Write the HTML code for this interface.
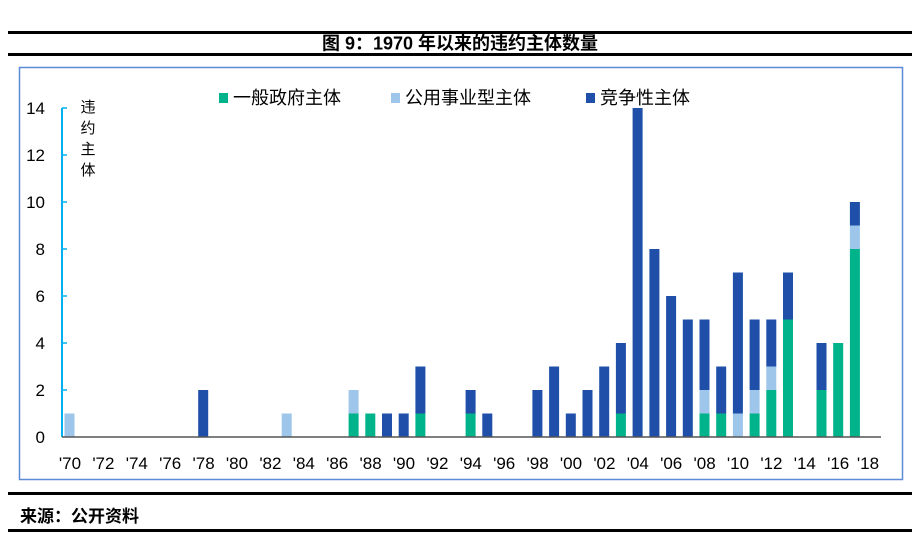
<!DOCTYPE html>
<html><head><meta charset="utf-8"><style>
body{margin:0;background:#fff;width:920px;height:540px;overflow:hidden}
svg{display:block}
text{font-family:"Liberation Sans","Noto Sans CJK SC",sans-serif}
</style></head><body>
<svg width="920" height="540" xmlns="http://www.w3.org/2000/svg">
<rect x="8" y="31" width="904" height="3" fill="#000"/>
<rect x="8" y="53" width="904" height="3" fill="#000"/>
<text x="460" y="49.5" font-size="18" font-weight="bold" text-anchor="middle">图 9：1970 年以来的违约主体数量</text>
<rect x="19.5" y="67.5" width="883" height="412" fill="none" stroke="#5b8ad6" stroke-width="1.5"/>
<rect x="8" y="492" width="904" height="3" fill="#000"/>
<rect x="8" y="529" width="904" height="3" fill="#000"/>
<text x="20" y="522" font-size="17" font-weight="bold">来源：公开资料</text>
<rect x="219" y="93" width="9" height="10" fill="#00b38a"/>
<text x="233" y="104" font-size="18">一般政府主体</text>
<rect x="391" y="93" width="9" height="10" fill="#9dc6ea"/>
<text x="405" y="104" font-size="18">公用事业型主体</text>
<rect x="586" y="93" width="9" height="10" fill="#1f4fa8"/>
<text x="600" y="104" font-size="18">竞争性主体</text>
<g font-size="15" text-anchor="middle">
<text x="88" y="112">违</text><text x="88" y="133">约</text><text x="88" y="154">主</text><text x="88" y="175">体</text></g>
<line x1="62" y1="108" x2="62" y2="437" stroke="#00b0f0" stroke-width="2"/>
<g stroke="#00b0f0" stroke-width="1.5">
<line x1="62" y1="108" x2="67" y2="108"/><line x1="62" y1="155" x2="67" y2="155"/><line x1="62" y1="202" x2="67" y2="202"/><line x1="62" y1="249" x2="67" y2="249"/><line x1="62" y1="296" x2="67" y2="296"/><line x1="62" y1="343" x2="67" y2="343"/><line x1="62" y1="390" x2="67" y2="390"/></g>
<g font-size="17" text-anchor="end">
<text x="45" y="443">0</text><text x="45" y="396">2</text><text x="45" y="349">4</text><text x="45" y="302">6</text><text x="45" y="255">8</text><text x="45" y="208">10</text><text x="45" y="161">12</text><text x="45" y="114">14</text></g>
<g>
<rect x="64.5" y="413.5" width="10" height="23.5" fill="#9dc6ea"/>
<rect x="198.2" y="390" width="10" height="47" fill="#1f4fa8"/>
<rect x="281.7" y="413.5" width="10" height="23.5" fill="#9dc6ea"/>
<rect x="348.6" y="413.5" width="10" height="23.5" fill="#00b38a"/><rect x="348.6" y="390" width="10" height="23.5" fill="#9dc6ea"/>
<rect x="365.3" y="413.5" width="10" height="23.5" fill="#00b38a"/>
<rect x="382" y="413.5" width="10" height="23.5" fill="#1f4fa8"/>
<rect x="398.7" y="413.5" width="10" height="23.5" fill="#1f4fa8"/>
<rect x="415.4" y="413.5" width="10" height="23.5" fill="#00b38a"/><rect x="415.4" y="366.5" width="10" height="47" fill="#1f4fa8"/>
<rect x="465.6" y="413.5" width="10" height="23.5" fill="#00b38a"/><rect x="465.6" y="390" width="10" height="23.5" fill="#1f4fa8"/>
<rect x="482.3" y="413.5" width="10" height="23.5" fill="#1f4fa8"/>
<rect x="532.4" y="390" width="10" height="47" fill="#1f4fa8"/>
<rect x="549.1" y="366.5" width="10" height="70.5" fill="#1f4fa8"/>
<rect x="565.8" y="413.5" width="10" height="23.5" fill="#1f4fa8"/>
<rect x="582.5" y="390" width="10" height="47" fill="#1f4fa8"/>
<rect x="599.2" y="366.5" width="10" height="70.5" fill="#1f4fa8"/>
<rect x="615.9" y="413.5" width="10" height="23.5" fill="#00b38a"/><rect x="615.9" y="343" width="10" height="70.5" fill="#1f4fa8"/>
<rect x="632.6" y="108" width="10" height="329" fill="#1f4fa8"/>
<rect x="649.4" y="249" width="10" height="188" fill="#1f4fa8"/>
<rect x="666.1" y="296" width="10" height="141" fill="#1f4fa8"/>
<rect x="682.8" y="319.5" width="10" height="117.5" fill="#1f4fa8"/>
<rect x="699.5" y="413.5" width="10" height="23.5" fill="#00b38a"/><rect x="699.5" y="390" width="10" height="23.5" fill="#9dc6ea"/><rect x="699.5" y="319.5" width="10" height="70.5" fill="#1f4fa8"/>
<rect x="716.2" y="413.5" width="10" height="23.5" fill="#00b38a"/><rect x="716.2" y="366.5" width="10" height="47" fill="#1f4fa8"/>
<rect x="732.9" y="413.5" width="10" height="23.5" fill="#9dc6ea"/><rect x="732.9" y="272.5" width="10" height="141" fill="#1f4fa8"/>
<rect x="749.6" y="413.5" width="10" height="23.5" fill="#00b38a"/><rect x="749.6" y="390" width="10" height="23.5" fill="#9dc6ea"/><rect x="749.6" y="319.5" width="10" height="70.5" fill="#1f4fa8"/>
<rect x="766.3" y="390" width="10" height="47" fill="#00b38a"/><rect x="766.3" y="366.5" width="10" height="23.5" fill="#9dc6ea"/><rect x="766.3" y="319.5" width="10" height="47" fill="#1f4fa8"/>
<rect x="783" y="319.5" width="10" height="117.5" fill="#00b38a"/><rect x="783" y="272.5" width="10" height="47" fill="#1f4fa8"/>
<rect x="816.5" y="390" width="10" height="47" fill="#00b38a"/><rect x="816.5" y="343" width="10" height="47" fill="#1f4fa8"/>
<rect x="833.2" y="343" width="10" height="94" fill="#00b38a"/>
<rect x="849.9" y="249" width="10" height="188" fill="#00b38a"/><rect x="849.9" y="225.5" width="10" height="23.5" fill="#9dc6ea"/><rect x="849.9" y="202" width="10" height="23.5" fill="#1f4fa8"/>
</g>
<line x1="62" y1="437" x2="881" y2="437" stroke="#555" stroke-width="1.5"/>
<g font-size="17" text-anchor="middle">
<text x="70" y="469">'70</text><text x="103.4" y="469">'72</text><text x="136.8" y="469">'74</text><text x="170.2" y="469">'76</text><text x="203.6" y="469">'78</text><text x="237" y="469">'80</text><text x="270.4" y="469">'82</text><text x="303.8" y="469">'84</text><text x="337.2" y="469">'86</text><text x="370.6" y="469">'88</text><text x="404" y="469">'90</text><text x="437.4" y="469">'92</text><text x="470.8" y="469">'94</text><text x="504.2" y="469">'96</text><text x="537.6" y="469">'98</text><text x="571" y="469">'00</text><text x="604.4" y="469">'02</text><text x="637.8" y="469">'04</text><text x="671.2" y="469">'06</text><text x="704.6" y="469">'08</text><text x="738" y="469">'10</text><text x="771.4" y="469">'12</text><text x="804.8" y="469">'14</text><text x="838.2" y="469">'16</text><text x="868" y="469">'18</text>
</g>
</svg>
</body></html>
